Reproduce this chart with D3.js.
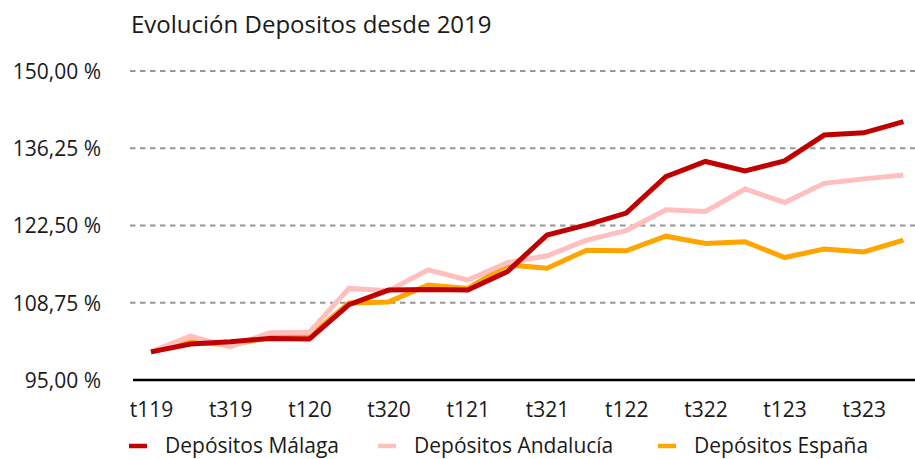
<!DOCTYPE html>
<html><head><meta charset="utf-8">
<script src="https://cdn.jsdelivr.net/npm/d3@7/dist/d3.min.js"></script>
<style>body{margin:0;background:#fff}svg{display:block;font-family:"Open Sans",sans-serif}</style>
</head><body><svg id="c" width="915" height="459"></svg>
<script>
const categories = ["t119","t219","t319","t419","t120","t220","t320","t420","t121","t221","t321","t421","t122","t222","t322","t422","t123","t223","t323","t423"];
const malaga    = [100.0,101.4,101.8,102.4,102.3,108.4,111.0,111.1,111.0,114.3,120.8,122.6,124.7,131.2,133.9,132.2,134.0,138.6,139.0,141.0];
const andalucia = [100.0,102.8,100.9,103.4,103.5,111.3,110.9,114.6,112.8,115.9,117.1,119.9,121.6,125.3,125.0,129.0,126.6,130.0,130.8,131.5];
const espana    = [100.0,101.8,101.2,102.6,102.8,108.7,108.9,111.9,111.3,115.5,114.9,118.1,118.0,120.6,119.3,119.6,116.8,118.3,117.8,119.9];
const yTicks = [95, 108.75, 122.5, 136.25, 150];
const xLabels = ["t119","t319","t120","t320","t121","t321","t122","t322","t123","t323"];
const seriesNames = ["Depósitos Málaga","Depósitos Andalucía","Depósitos España"];
const seriesColors = ["#C00000","#FFBFBF","#FFA500"];
const title = "Evolución Depositos desde 2019";

const FONT = "'Open Sans',sans-serif";
const svg = d3.select("#c");
const x = d3.scalePoint().domain(categories).range([151, 903.4]);
const y = d3.scaleLinear().domain([95,150]).range([380,71]);
const fmt = v => d3.format(".2f")(v).replace(".", ",") + " %";

// gridlines
svg.append("g").selectAll("line").data(yTicks.filter(t=>t>95)).join("line")
  .attr("x1",130).attr("x2",915).attr("y1",d=>y(d)).attr("y2",d=>y(d))
  .attr("stroke","#969696").attr("stroke-width",2.2).attr("stroke-dasharray","5.5,4.5");

// y axis labels
const yAxis = d3.axisLeft(y).tickValues(yTicks).tickFormat(fmt).tickSize(0).tickPadding(0);
const gy = svg.append("g").attr("transform","translate(101,0)").call(yAxis);
gy.select(".domain").remove();
gy.selectAll("text").attr("font-size",21).attr("fill","#1a1a1a").attr("font-family",FONT).attr("dy","0.35em");

// x axis
const xAxis = d3.axisBottom(x).tickValues(xLabels).tickSize(0).tickPadding(0);
const gx = svg.append("g").attr("transform","translate(0,380)").call(xAxis);
gx.select(".domain").remove();
gx.selectAll("text").attr("font-size",21).attr("fill","#1a1a1a").attr("font-family",FONT).attr("y",37).attr("dy",0);
svg.append("line").attr("x1",133).attr("x2",915).attr("y1",380).attr("y2",380).attr("stroke","#000").attr("stroke-width",2.5);

// lines
const line = d3.line().x((d,i)=>x(categories[i])).y(d=>y(d));
const data = [malaga, andalucia, espana];
[2,1,0].forEach(k=>{
  svg.append("path").datum(data[k]).attr("d",line).attr("fill","none")
    .attr("stroke",seriesColors[k]).attr("stroke-width",5).attr("stroke-linejoin","miter");
});

// title
svg.append("text").attr("x",131).attr("y",33).attr("font-size",24).attr("fill","#1a1a1a").attr("font-family",FONT).text(title);

// legend
const legX = [129, 378, 658];
seriesNames.forEach((n,i)=>{
  svg.append("line").attr("x1",legX[i]).attr("x2",legX[i]+18).attr("y1",446).attr("y2",446)
    .attr("stroke",seriesColors[i]).attr("stroke-width",4.5);
  svg.append("text").attr("x",legX[i]+36).attr("y",453).attr("font-size",21).attr("fill","#1a1a1a").attr("font-family",FONT).text(n);
});
</script></body></html>
